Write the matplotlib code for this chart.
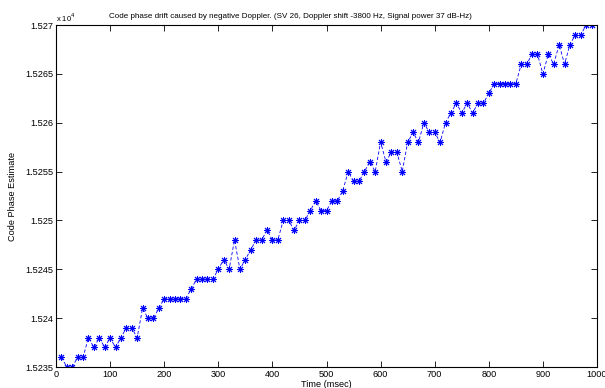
import numpy as np
import matplotlib
matplotlib.use("Agg")
import matplotlib.pyplot as plt
from matplotlib.ticker import FuncFormatter

plt.rcParams['font.family'] = ['Liberation Sans', 'DejaVu Sans']

# time axis (msec) and code phase estimates
time_ms = np.arange(10, 1000, 10)
code_phase = [
    15236, 15235, 15235, 15236, 15236, 15238, 15237, 15238, 15237, 15238,
    15237, 15238, 15239, 15239, 15238, 15241, 15240, 15240, 15241, 15242,
    15242, 15242, 15242, 15242, 15243, 15244, 15244, 15244, 15244, 15245,
    15246, 15245, 15248, 15245, 15246, 15247, 15248, 15248, 15249, 15248,
    15248, 15250, 15250, 15249, 15250, 15250, 15251, 15252, 15251, 15251,
    15252, 15252, 15253, 15255, 15254, 15254, 15255, 15256, 15255, 15258,
    15256, 15257, 15257, 15255, 15258, 15259, 15258, 15260, 15259, 15259,
    15258, 15260, 15261, 15262, 15261, 15262, 15261, 15262, 15262, 15263,
    15264, 15264, 15264, 15264, 15264, 15266, 15266, 15267, 15267, 15265,
    15267, 15266, 15268, 15266, 15268, 15269, 15269, 15270, 15270,
]
x_ticks = np.arange(0, 1001, 100)
y_ticks = np.arange(15235, 15271, 5)

title = ("Code phase drift caused by negative Doppler. "
         "(SV 26, Doppler shift -3800 Hz, Signal power 37 dB-Hz)")

fig = plt.figure(figsize=(6.05, 3.88), dpi=100)
ax = fig.add_axes([56/605, 1-367/388, 541/605, 342/388])

# matlab style '*' marker -> 8 spoke asterisk
ax.plot(time_ms, code_phase, linestyle='--', dashes=(4, 2.5), color='blue',
        linewidth=0.6, marker=(8, 2, 0), markersize=5, markeredgewidth=0.7)

ax.set_xlim(0, 1000)
ax.set_ylim(15235, 15270)
ax.set_xticks(x_ticks)
ax.set_yticks(y_ticks)
ax.yaxis.set_major_formatter(FuncFormatter(lambda v, p: '%g' % (v / 1e4)))
ax.tick_params(direction='in', length=4, width=0.6, labelsize=6.6,
               top=True, right=True, pad=2)
for s in ax.spines.values():
    s.set_linewidth(0.8)

ax.set_xlabel('Time (msec)', fontsize=6.6, labelpad=1)
ax.set_ylabel('Code Phase Estimate', fontsize=6.6, labelpad=6)

fig.text(290/605, 1-17/388, title, fontsize=5.75, ha='center', va='center')
fig.text(56/605, 1-18/388, r'x 10$^4$', fontsize=5.5, ha='left', va='center')

fig.savefig('out.png', dpi=100)
